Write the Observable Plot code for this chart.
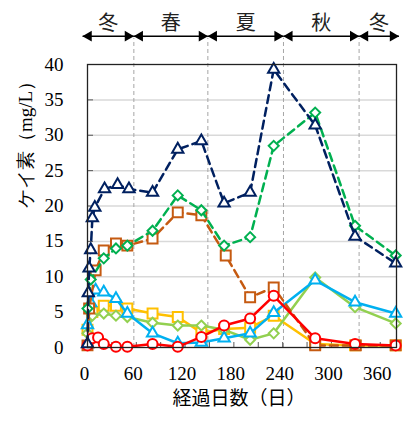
<!DOCTYPE html>
<html><head><meta charset="utf-8">
<script src="https://cdn.jsdelivr.net/npm/d3@7"></script>
<script src="https://cdn.jsdelivr.net/npm/@observablehq/plot@0.6"></script>
<style>
body{margin:0;background:#fff}
svg g.serifnum text, svg g.serifnum{font-family:"Liberation Serif","Times New Roman",serif !important;}
</style>
</head><body><div id="chart"></div>
<script>
// ---- data (elapsed days, silica mg/L) ----
const navyDays = [0, 1, 2, 4, 6, 9, 21, 37, 51, 80, 111, 140, 168, 200, 229, 280, 329, 379];
const navySi   = [0.5, 7.7, 11.2, 13.8, 18.3, 19.8, 22.4, 23.0, 22.4, 21.9, 28.0, 29.2, 20.4, 21.9, 39.3, 31.4, 15.7, 11.9];
const greenDays = [0, 4, 20, 35, 49, 80, 111, 140, 168, 200, 229, 280, 329, 379];
const greenSi   = [5.5, 9.6, 12.6, 14.0, 14.4, 16.5, 21.5, 19.4, 14.4, 15.6, 28.5, 33.2, 17.2, 13.0];
const orangeDays = [0, 2, 10, 20, 35, 49, 80, 111, 140, 170, 200, 229, 280, 330, 379];
const orangeSi   = [0.3, 5.5, 10.9, 13.7, 14.7, 14.4, 15.4, 19.1, 18.7, 13.0, 7.1, 8.5, 0.3, 0.3, 0.3];
const redDays = [0, 6, 13, 20, 35, 49, 80, 111, 140, 168, 200, 229, 280, 329, 379];
const redSi   = [0.3, 1.3, 1.4, 0.5, 0.1, 0.1, 0.5, 0.1, 1.5, 3.1, 4.1, 7.3, 1.3, 0.5, 0.3];
const yellowDays = [0, 6, 20, 35, 49, 80, 111, 140, 168, 200, 229, 280, 329, 379];
const yellowSi   = [2.5, 5.0, 5.9, 5.9, 5.5, 4.8, 4.3, 2.1, 2.6, 2.8, 4.5, 0.5, 0.3, 0.3];
const skyDays = [0, 4, 10, 20, 35, 49, 80, 111, 140, 168, 200, 229, 280, 329, 379];
const skySi   = [3.2, 6.3, 8.1, 7.8, 6.9, 4.8, 2.0, 0.6, 0.7, 1.3, 2.0, 4.9, 9.5, 6.4, 4.8];
const limeDays = [0, 6, 20, 35, 49, 80, 111, 140, 168, 200, 229, 280, 329, 379];
const limeSi   = [2.0, 4.5, 4.8, 4.5, 4.3, 3.5, 3.1, 3.1, 2.5, 1.1, 2.0, 9.9, 5.7, 3.4];

const seasonNames = ["冬", "春", "夏", "秋", "冬"];
const seasonStart = [-6, 57, 148, 241, 334];
const seasonEnd   = [57, 148, 241, 334, 383];
const seasonBounds = [57, 148, 241, 334];

const xLabelTicks = [0, 60, 120, 180, 240, 300, 360];
const xMinorTicks = [30, 60, 90, 120, 150, 180, 210, 240, 270, 300, 330, 360];
const yTicks = [0, 5, 10, 15, 20, 25, 30, 35, 40];
const yGrid = [5, 10, 15, 20, 25, 30, 35];

const xTitle = "経過日数（日）";
const yTitle = "ケイ素（mg/L）";

// ---- series definitions ----
const seriesList = [
  {days: yellowDays, si: yellowSi, color: "#FFC000", symbol: "square",   r: 5.6, dash: null},
  {days: limeDays,   si: limeSi,   color: "#92D050", symbol: "diamond2", r: 4.5, dash: null},
  {days: skyDays,    si: skySi,    color: "#00B0F0", symbol: "triangle", r: 4.2, dash: null},
  {days: orangeDays, si: orangeSi, color: "#C55A11", symbol: "square",   r: 5.6, dash: "8,5"},
  {days: redDays,    si: redSi,    color: "#FF0000", symbol: "circle",   r: 5,   dash: null},
  {days: greenDays,  si: greenSi,  color: "#00B050", symbol: "diamond2", r: 4.5, dash: "8,5"},
  {days: navyDays,   si: navySi,   color: "#002060", symbol: "triangle", r: 4.2, dash: "8,5"}
];

const seasons = seasonNames.map((n, i) => ({name: n, start: seasonStart[i], end: seasonEnd[i]}));
const arrowY = 44;
const serif = "Liberation Serif";
const cjk = "Noto Sans CJK JP";

const seriesMarks = seriesList.flatMap(s => {
  const rows = s.days.map((d, i) => ({day: d, si: s.si[i]}));
  return [
    Plot.line(rows, {x: "day", y: "si", stroke: s.color, strokeWidth: 2.5, strokeDasharray: s.dash}),
    Plot.dot(rows, {x: "day", y: "si", symbol: s.symbol, r: s.r, stroke: s.color, fill: "white", strokeWidth: 2})
  ];
});

const chart = Plot.plot({
  width: 403,
  height: 421,
  marginLeft: 87,
  marginRight: 7,
  marginTop: 64,
  marginBottom: 74,
  style: {fontSize: "19px", color: "#000", background: "#fff"},
  x: {domain: [0, 380]},
  y: {domain: [0, 40]},
  marks: [
    Plot.ruleY(yGrid, {stroke: "#d9d9d9", strokeWidth: 1.5}),
    Plot.ruleX(seasonBounds, {y1: 0, y2: arrowY - 0.3, stroke: "#a6a6a6", strokeWidth: 1, strokeDasharray: "4,3"}),
    Plot.axisY({ticks: yTicks, tickSize: 0, tickPadding: 24, fontSize: 19, className: "serifnum", label: null, tickFormat: d => String(d)}),
    Plot.axisY({ticks: yTicks, tickSize: -6, text: null, stroke: "#595959", label: null}),
    Plot.axisX({ticks: xLabelTicks, tickSize: 0, tickPadding: 19, fontSize: 19, className: "serifnum", dx: -3, label: null, tickFormat: d => String(d)}),
    Plot.axisX({ticks: xMinorTicks, tickSize: -5, text: null, stroke: "#595959", label: null}),
    ...seriesMarks,
    Plot.frame({stroke: "#222", strokeWidth: 1.3}),
    // season arrows
    Plot.link(seasons, {x1: "start", x2: "end", y1: arrowY, y2: arrowY, stroke: "#000", strokeWidth: 1.5}),
    Plot.dot(seasons, {x: "end", y: arrowY, symbol: "triangle", rotate: 90, r: 4, fill: "#000", stroke: null, dx: -6}),
    Plot.dot(seasons, {x: "start", y: arrowY, symbol: "triangle", rotate: -90, r: 4, fill: "#000", stroke: null, dx: 6}),
    Plot.text(seasons, {x: d => (d.start + d.end) / 2, y: arrowY, dy: -13, text: "name", fontSize: 20, fontFamily: cjk, fill: "#222"}),
    // axis titles
    Plot.text([xTitle], {text: d => d, frameAnchor: "bottom", dy: 57, dx: -3, fontSize: 19, fontFamily: cjk}),
    Plot.text([yTitle], {text: d => d, frameAnchor: "left", dx: -62, dy: 2, rotate: -90, fontSize: 19, className: "serifnum"})
  ]
});
// make sure the numeric tick labels use the serif face
chart.querySelectorAll("g.serifnum text, g[aria-label*='tick label'] text").forEach(t => {
  t.setAttribute("font-family", "Liberation Serif");
  t.style.fontFamily = "'Liberation Serif', serif";
});
document.getElementById("chart").appendChild(chart);
</script>
</body></html>
